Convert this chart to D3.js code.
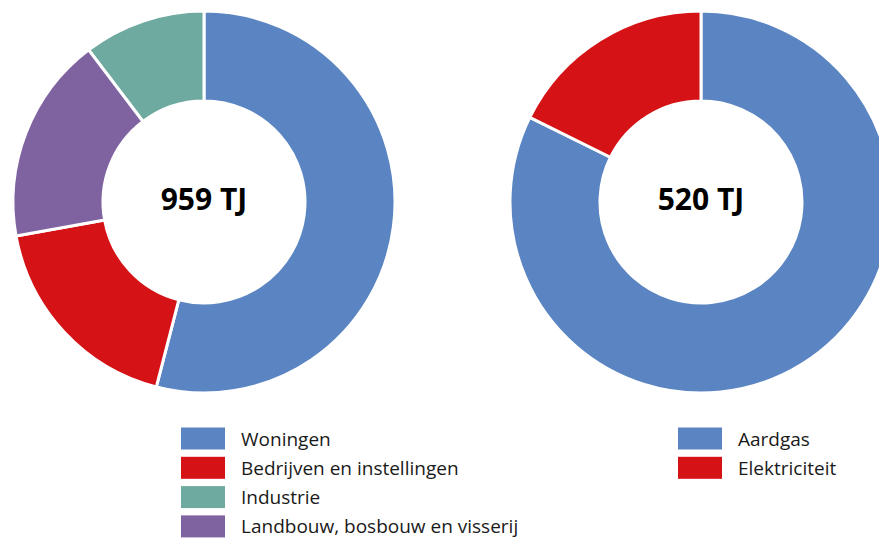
<!DOCTYPE html>
<html>
<head>
<meta charset="utf-8">
<script src="https://cdn.jsdelivr.net/npm/d3@7"></script>
<style>
  body { margin: 0; background: #fff; }
  svg { display: block; font-family: "Open Sans", sans-serif; }
</style>
</head>
<body>
<div class="container"></div>
<script>
/* Data (TJ) */
const sectorNames = ['Woningen', 'Bedrijven en instellingen', 'Industrie', 'Landbouw, bosbouw en visserij'];
const sectorValues = [518, 174, 99, 168];
const sectorColors = ['#5b85c2', '#d51317', '#6faaa0', '#7f63a1'];

const carrierNames = ['Aardgas', 'Elektriciteit'];
const carrierValues = [428, 92];
const carrierColors = ['#5b85c2', '#d51317'];

/* Layout */
const width = 879;
const height = 539;
const outerR = 191;
const innerR = 101;

const svg = d3.select('.container')
    .append('svg')
    .attr('width', width)
    .attr('height', height);

function donut(cx, cy, names, values, colors, label) {
    const data = names.map((n, i) => ({ name: n, value: values[i], color: colors[i] }));
    // default pie sort = descending by value, clockwise from 12 o'clock
    const pie = d3.pie().value(d => d.value);
    const arc = d3.arc().innerRadius(innerR).outerRadius(outerR);

    const g = svg.append('g').attr('transform', `translate(${cx}, ${cy})`);
    g.selectAll('path')
        .data(pie(data))
        .enter()
        .append('path')
        .attr('d', arc)
        .attr('fill', d => d.data.color)
        .attr('stroke', '#fff')
        .attr('stroke-width', 3)
        .attr('stroke-linejoin', 'miter');

    g.append('text')
        .attr('text-anchor', 'middle')
        .attr('y', 8)
        .attr('font-size', 30)
        .attr('font-weight', 'bold')
        .attr('fill', '#000')
        .text(label);
}

function legend(x, y, names, colors) {
    const step = 29.3;
    const g = svg.append('g').attr('transform', `translate(${x}, ${y})`);
    const rows = g.selectAll('g')
        .data(names)
        .enter()
        .append('g')
        .attr('transform', (d, i) => `translate(0, ${i * step})`);
    rows.append('rect')
        .attr('width', 44)
        .attr('height', 22)
        .attr('fill', (d, i) => colors[i]);
    rows.append('text')
        .attr('x', 60)
        .attr('y', 18)
        .attr('font-size', 19)
        .attr('fill', '#1a1a1a')
        .text(d => d);
}

donut(204, 202, sectorNames, sectorValues, sectorColors, '959 TJ');
donut(701, 202, carrierNames, carrierValues, carrierColors, '520 TJ');

legend(181, 427.5, sectorNames, sectorColors);
legend(678, 427.5, carrierNames, carrierColors);
</script>
</body>
</html>
